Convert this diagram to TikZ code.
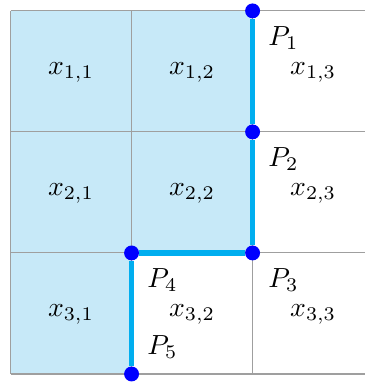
\documentclass[tikz,border=0pt]{standalone}
\usepackage{amsmath, amssymb}
\usepackage{xcolor}
\usepackage{tikz}
\usetikzlibrary{positioning,calc}
\definecolor{cellblue}{RGB}{199,233,248}
\definecolor{pathcyan}{RGB}{0,174,239}

\begin{document}
\begin{tikzpicture}[
        cell_fill/.style={
            fill=cellblue
        },
        grid_line/.style={
            draw=gray!75,
            line width=0.5pt
        },
        path_edge/.style={
            draw=pathcyan,
            line width=2.6pt
        },
        corner_node/.style={
            circle,
            fill=blue,
            minimum size=7pt,
            inner sep=0pt
        },
        cell_label/.style={
            inner sep=0pt,
            scale=1.3
        },
        p_label/.style={
            inner sep=0pt,
            scale=1.3
        }
    ]
        \useasboundingbox (-0.174,-0.149) rectangle (5.86,6.18);

        % Shaded cells
        \fill[cell_fill] (0,0) -- (2,0) -- (2,2) -- (4,2) -- (4,6) -- (0,6) -- cycle;

        % Grid
        \draw[grid_line, step=2] (0,0) grid (5.86,6);

        % Cell entries
        \node[cell_label] (x11) at (1, 4.98) {$x_{1,1}$};
        \node[cell_label] (x12) at (3, 4.98) {$x_{1,2}$};
        \node[cell_label] (x13) at (5, 4.98) {$x_{1,3}$};
        \node[cell_label] (x21) at (1, 2.98) {$x_{2,1}$};
        \node[cell_label] (x22) at (3, 2.98) {$x_{2,2}$};
        \node[cell_label] (x23) at (5, 2.98) {$x_{2,3}$};
        \node[cell_label] (x31) at (1, 0.98) {$x_{3,1}$};
        \node[cell_label] (x32) at (3, 0.98) {$x_{3,2}$};
        \node[cell_label] (x33) at (5, 0.98) {$x_{3,3}$};

        % Corner points
        \node[corner_node] (p1) at (4, 6) {};
        \node[corner_node] (p2) at (4, 4) {};
        \node[corner_node] (p3) at (4, 2) {};
        \node[corner_node] (p4) at (2, 2) {};
        \node[corner_node] (p5) at (2, 0) {};

        % Boundary path
        \draw[path_edge] (p1) -- (p2);
        \draw[path_edge] (p2) -- (p3);
        \draw[path_edge] (p3) -- (p4);
        \draw[path_edge] (p4) -- (p5);

        % Point labels
        \node[p_label] (l1) at (4.51, 5.55) {$P_1$};
        \node[p_label] (l2) at (4.51, 3.55) {$P_2$};
        \node[p_label] (l3) at (4.51, 1.55) {$P_3$};
        \node[p_label] (l4) at (2.51, 1.55) {$P_4$};
        \node[p_label] (l5) at (2.51, 0.45) {$P_5$};
    \end{tikzpicture}
\end{document}
